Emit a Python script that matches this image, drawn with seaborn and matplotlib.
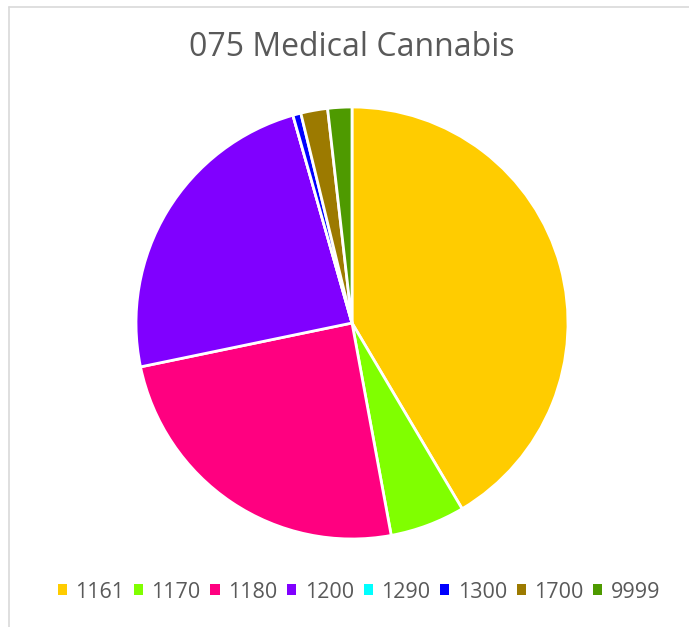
"""
Pie chart of 075 Medical Cannabis by code.
"""

import matplotlib
matplotlib.use("Agg")
import matplotlib.pyplot as plt
from matplotlib.lines import Line2D
from matplotlib.patches import Patch
import seaborn as sns

CODES = ["1161", "1170", "1180", "1200", "1290", "1300", "1700", "9999"]
SHARES = [41.4, 5.6, 24.6, 23.8, 0.0, 0.6, 2.0, 1.8]
COLORS = ["#FFCC00", "#80FF00", "#FF0080", "#8000FF",
          "#00FFFF", "#0000FF", "#9C7A00", "#4E9A00"]
TITLE = "075 Medical Cannabis"
TEXT_COLOR = "#595959"

W, H, DPI = 689, 627, 100

sns.set_theme(style="white")
plt.rcParams["font.family"] = ["Open Sans", "DejaVu Sans"]

fig = plt.figure(figsize=(W / DPI, H / DPI), dpi=DPI)
fig.patch.set_facecolor("white")

# pie box: center (352, 323) px, radius 216 px
cx, cy, r = 352, 323, 216
ax = fig.add_axes([(cx - r) / W, (H - cy - r) / H, 2 * r / W, 2 * r / H])
ax.pie(
    SHARES,
    colors=COLORS,
    startangle=90,
    counterclock=False,
    radius=1.0,
    wedgeprops={"edgecolor": "white", "linewidth": 2.0},
)
ax.set_xlim(-1, 1)
ax.set_ylim(-1, 1)
ax.set_aspect("equal")
ax.axis("off")

fig.text(cx / W, 1 - 48 / H, TITLE, ha="center", va="center",
         fontsize=23, color=TEXT_COLOR)

handles = [Patch(facecolor=c, edgecolor="none") for c in COLORS]
fig.legend(
    handles, CODES,
    loc="center", bbox_to_anchor=(359 / W, 1 - 592 / H),
    ncol=len(CODES), frameon=False,
    fontsize=15.5, labelcolor=TEXT_COLOR,
    handlelength=0.42, handleheight=0.42,
    handletextpad=0.4, columnspacing=0.45,
)

# chart frame (only left/top edges visible in the crop)
fig.add_artist(Line2D([8.5 / W, 8.5 / W], [0, 1 - 6.5 / H],
                      transform=fig.transFigure, color="#D9D9D9", lw=1.2))
fig.add_artist(Line2D([8.5 / W, 1], [1 - 6.5 / H, 1 - 6.5 / H],
                      transform=fig.transFigure, color="#D9D9D9", lw=1.2))

fig.savefig("out.png", dpi=DPI)
plt.close(fig)
